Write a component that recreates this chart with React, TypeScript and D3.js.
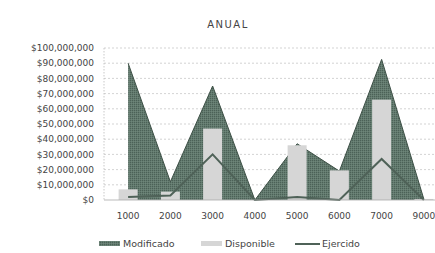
import * as d3 from "d3";

const categories = ["1000", "2000", "3000", "4000", "5000", "6000", "7000", "9000"];
const modificado = [90000000, 12000000, 75000000, 0, 37000000, 19000000, 92500000, 500000];
const disponible = [7000000, 5500000, 47000000, 0, 36000000, 19500000, 66000000, 700000];
const ejercido = [2000000, 3000000, 30000000, 0, 2000000, 0, 27000000, 0];
const yTicks = [0, 10000000, 20000000, 30000000, 40000000, 50000000, 60000000, 70000000, 80000000, 90000000, 100000000];
const legendItems = ["Modificado", "Disponible", "Ejercido"];

const W = 435;
const H = 253;
const PLOT_LEFT = 104;
const PLOT_TOP = 48;
const PLOT_BOTTOM = 200;
const FONT = "'DejaVu Sans', sans-serif";

const AREA_FILL = "#627a6e";
const AREA_DARK = "#4c6157";
const BAR_FILL = "#d6d6d6";
const LINE_COLOR = "#4f6258";

export default function App() {
  const x = d3.scaleBand<string>().domain(categories).range([107, 445]).paddingInner(0.55).paddingOuter(0.275);
  const y = d3.scaleLinear().domain([0, 100000000]).range([PLOT_BOTTOM, PLOT_TOP]);
  const cx = (c: string) => (x(c) as number) + x.bandwidth() / 2;
  const fmt = d3.format("$,.0f");

  const area = d3
    .area<number>()
    .x((_, i) => cx(categories[i]))
    .y0(y(0))
    .y1((d) => y(d));
  const line = d3
    .line<number>()
    .x((_, i) => cx(categories[i]))
    .y((d) => y(d));

  return (
    <svg width={W} height={H} style={{ position: "absolute", left: 0, top: 0, background: "#fff" }}>
      <defs>
        <pattern id="dither" width="2" height="2" patternUnits="userSpaceOnUse">
          <rect width="2" height="2" fill={AREA_FILL} />
          <rect width="1" height="1" fill={AREA_DARK} />
          <rect x="1" y="1" width="1" height="1" fill="#6e8579" />
        </pattern>
      </defs>
      <text x={228} y={28} textAnchor="middle" fontFamily={FONT} fontSize={10} letterSpacing={1.5} fill="#444">
        ANUAL
      </text>

      {/* gridlines */}
      {yTicks.map((t) => (
        <g key={t}>
          {t > 0 && (
            <line x1={PLOT_LEFT} x2={W} y1={y(t)} y2={y(t)} stroke="#c8c8c8" strokeWidth={0.8} strokeDasharray="2,2" />
          )}
          <text x={94} y={y(t)} dy="0.35em" textAnchor="end" fontFamily={FONT} fontSize={9} fill="#444">
            {fmt(t)}
          </text>
        </g>
      ))}
      <line x1={PLOT_LEFT} x2={PLOT_LEFT} y1={PLOT_TOP} y2={PLOT_BOTTOM} stroke="#bbb" strokeWidth={0.8} strokeDasharray="1.5,1.5" />

      {/* Modificado area */}
      <path d={area(modificado) as string} fill="url(#dither)" />
      <path d={line(modificado) as string} fill="none" stroke="#3d5046" strokeWidth={1} />

      {/* Disponible bars */}
      {disponible.map((v, i) => (
        <rect
          key={categories[i]}
          x={x(categories[i])}
          y={y(v)}
          width={x.bandwidth()}
          height={y(0) - y(v)}
          fill={BAR_FILL}
        />
      ))}

      {/* Ejercido line */}
      <path d={line(ejercido) as string} fill="none" stroke={LINE_COLOR} strokeWidth={2} />

      <line x1={PLOT_LEFT} x2={W} y1={PLOT_BOTTOM} y2={PLOT_BOTTOM} stroke="#aaa" strokeWidth={0.8} />

      {categories.map((c) => (
        <text key={c} x={cx(c)} y={219} textAnchor="middle" fontFamily={FONT} fontSize={9} fill="#444">
          {c}
        </text>
      ))}

      {/* legend */}
      <rect x={99} y={241} width={21} height={5} fill="url(#dither)" />
      <text x={123} y={244} dy="0.35em" fontFamily={FONT} fontSize={9.5} fill="#444">
        {legendItems[0]}
      </text>
      <rect x={201} y={241} width={21} height={5} fill={BAR_FILL} />
      <text x={225} y={244} dy="0.35em" fontFamily={FONT} fontSize={9.5} fill="#444">
        {legendItems[1]}
      </text>
      <line x1={295} x2={320} y1={244} y2={244} stroke={LINE_COLOR} strokeWidth={2} />
      <text x={322} y={244} dy="0.35em" fontFamily={FONT} fontSize={9.5} fill="#444">
        {legendItems[2]}
      </text>
    </svg>
  );
}
